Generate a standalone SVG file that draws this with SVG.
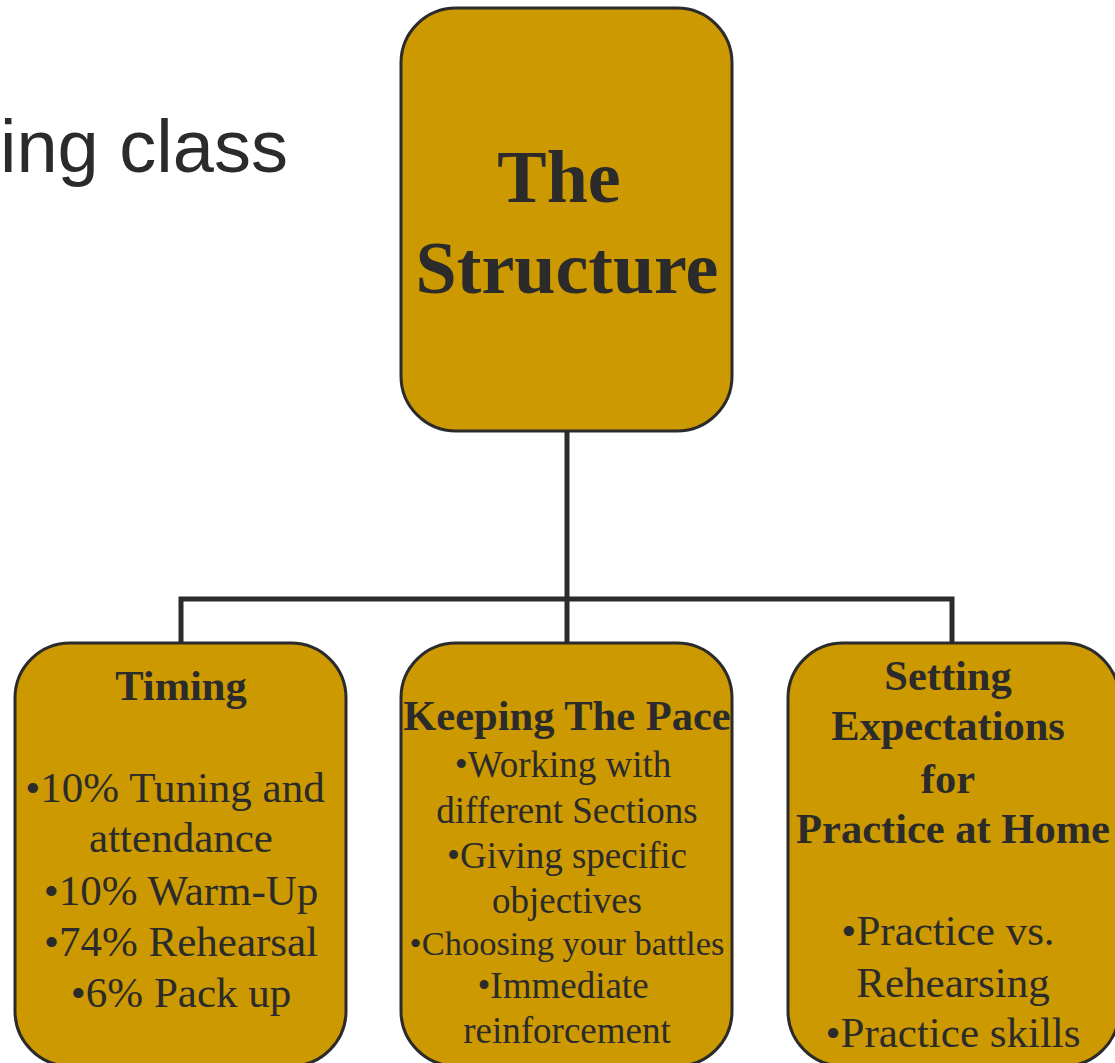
<svg xmlns="http://www.w3.org/2000/svg" width="1115" height="1063" viewBox="0 0 1115 1063">
<style>
.box{fill:#cc9900;stroke:#2b2b2b;stroke-width:3}
.conn{fill:none;stroke:#2b2b2b;stroke-width:5}
.t{font-family:"Liberation Serif","Times New Roman",serif;fill:#2b2b2b;text-anchor:middle}
.b{font-weight:bold}
</style>
<rect width="1115" height="1063" fill="#ffffff"/>
<text x="0" y="172" font-family="'Liberation Sans',Arial,sans-serif" font-size="74" fill="#2b2b2b">ing class</text>
<g id="connectors">
<path class="conn" d="M567 431V599M181 643V599H952V643M567 599V643"/>
</g>
<g id="node-structure">
<rect class="box" x="401" y="8" width="331" height="423" rx="55"/>
<text class="t b" x="559" y="202" font-size="74">The</text>
<text class="t b" x="567" y="293" font-size="74">Structure</text>
</g>
<g id="node-timing">
<rect class="box" x="15" y="643" width="331" height="423" rx="55"/>
<text class="t b" x="181" y="700" font-size="42.5">Timing</text>
<text class="t" x="175" y="802" font-size="43">•10% Tuning and</text>
<text class="t" x="181" y="852" font-size="43">attendance</text>
<text class="t" x="181" y="905" font-size="43">•10% Warm-Up</text>
<text class="t" x="181" y="956" font-size="43">•74% Rehearsal</text>
<text class="t" x="181" y="1007" font-size="43">•6% Pack up</text>
</g>
<g id="node-pace">
<rect class="box" x="401" y="643" width="331" height="423" rx="55"/>
<text class="t b" x="567" y="730" font-size="42.5">Keeping The Pace</text>
<text class="t" x="563" y="777" font-size="37">•Working with</text>
<text class="t" x="567" y="823" font-size="37">different Sections</text>
<text class="t" x="567" y="868" font-size="37">•Giving specific</text>
<text class="t" x="567" y="913" font-size="37">objectives</text>
<text class="t" x="567" y="955" font-size="34.5">•Choosing your battles</text>
<text class="t" x="563" y="998" font-size="37">•Immediate</text>
<text class="t" x="567" y="1043" font-size="37">reinforcement</text>
</g>
<g id="node-expectations">
<rect class="box" x="788" y="643" width="331" height="423" rx="55"/>
<text class="t b" x="948" y="690" font-size="42.5">Setting</text>
<text class="t b" x="948" y="740" font-size="42.5">Expectations</text>
<text class="t b" x="948" y="793" font-size="42.5">for</text>
<text class="t b" x="953" y="843" font-size="42.5">Practice at Home</text>
<text class="t" x="948" y="945" font-size="43">•Practice vs.</text>
<text class="t" x="953" y="997" font-size="43">Rehearsing</text>
<text class="t" x="953" y="1047" font-size="43">•Practice skills</text>
</g>
</svg>
